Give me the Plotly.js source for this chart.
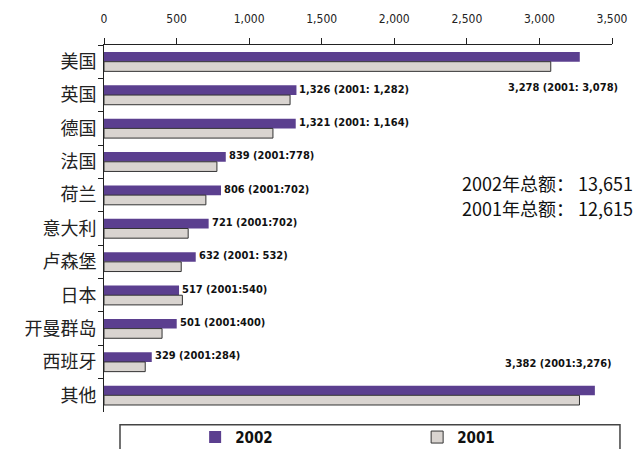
<!DOCTYPE html>
<html><head><meta charset="utf-8">
<script src="https://cdn.plot.ly/plotly-3.0.1.min.js"></script>
<style>body{margin:0;background:#fff}#c{width:644px;height:449px}</style>
</head><body><div id="c"></div>
<script>
const categories = ["美国","英国","德国","法国","荷兰","意大利","卢森堡","日本","开曼群岛","西班牙","其他"];
const values2002 = [3278,1326,1321,839,806,721,632,517,501,329,3382];
const values2001 = [3078,1282,1164,778,702,580,532,540,400,284,3276];
const valueLabels = ["3,278 (2001: 3,078)","1,326 (2001: 1,282)","1,321 (2001: 1,164)","839 (2001:778)","806 (2001:702)","721 (2001:702)","632 (2001: 532)","517 (2001:540)","501 (2001:400)","329 (2001:284)","3,382 (2001:3,276)"];
const tickVals = [0,500,1000,1500,2000,2500,3000,3500];
const tickText = ["0","500","1,000","1,500","2,000","2,500","3,000","3,500"];
const totals = ["2002年总额： 13,651","2001年总额： 12,615"];
const seriesNames = ["2002","2001"];

const narrow = "DejaVu Sans Condensed, Liberation Sans Narrow, sans-serif";
const cjk = "Noto Sans CJK SC, sans-serif";

const traces = [
  {type:"bar", orientation:"h", name:seriesNames[0], y:categories, x:values2002,
   marker:{color:"#5b3f8f", line:{width:0}}, hoverinfo:"x"},
  {type:"bar", orientation:"h", name:seriesNames[1], y:categories, x:values2001,
   marker:{color:"#d9d4d0", line:{width:1, color:"#333"}}, hoverinfo:"x"}
];

const annotations = categories.map((c,i)=>{
  const a = {x:values2002[i], y:c, xref:"x", yref:"y", text:"<b>"+valueLabels[i]+"</b>",
    showarrow:false, xanchor:"left", yanchor:"middle", xshift:1, yshift:6,
    font:{family:narrow, size:11, color:"#111"}};
  if(i===0){ a.xanchor="right"; a.xshift=40; a.yshift=-26; }
  if(i===categories.length-1){ a.xanchor="right"; a.xshift=19; a.yshift=32; }
  return a;
});
totals.forEach((t,i)=>annotations.push({x:0.70, y:0.624-0.068*i, xref:"paper", yref:"paper",
  text:t, showarrow:false, xanchor:"left", yanchor:"middle", font:{family:cjk, size:18, color:"#111"}}));

const layout = {
  width:644, height:449,
  margin:{l:104, r:32, t:45, b:37, autoexpand:false},
  paper_bgcolor:"#fff", plot_bgcolor:"#fff",
  barmode:"group", bargap:0.42, bargroupgap:0,
  showlegend:true,
  legend:{orientation:"h", xref:"container", x:0.303, xanchor:"left", y:-0.024, yanchor:"top",
    entrywidth:177, entrywidthmode:"pixels", traceorder:"normal",
    font:{family:narrow, size:15, color:"#111", weight:"bold"}, bgcolor:"rgba(0,0,0,0)"},
  xaxis:{side:"top", range:[0,3500], tickvals:tickVals, ticktext:tickText,
    showgrid:false, zeroline:false, showline:true, linecolor:"#222", linewidth:1,
    ticks:"outside", ticklen:6, tickcolor:"#222", ticklabelstandoff:10,
    tickfont:{family:narrow, size:12, color:"#222"}, fixedrange:true},
  yaxis:{range:[10.5,-0.5], type:"category", showgrid:false, zeroline:false,
    showline:true, linecolor:"#222", linewidth:1, ticks:"outside", ticklen:5, tickcolor:"#222",
    tickson:"boundaries", tickfont:{family:cjk, size:18, color:"#222"}, ticklabelstandoff:3},
  shapes:[{type:"rect", xref:"paper", yref:"paper", x0:0.0315, x1:1.0157, y0:-0.035, y1:-0.2,
    line:{color:"#444", width:1.5}, fillcolor:"rgba(0,0,0,0)"}],
  annotations:annotations
};
Plotly.newPlot("c", traces, layout, {displayModeBar:false, staticPlot:true});
</script></body></html>
